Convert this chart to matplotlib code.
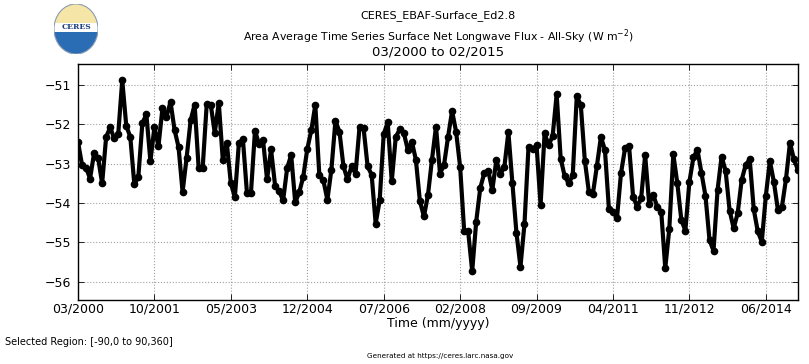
import numpy as np
import matplotlib
matplotlib.use("Agg")
import matplotlib.pyplot as plt
from matplotlib.patches import Ellipse, Rectangle, Wedge

title_main = "CERES_EBAF-Surface_Ed2.8"
title_sub = "Area Average Time Series Surface Net Longwave Flux - All-Sky (W m$^{-2}$)"
title_range = "03/2000 to 02/2015"
xlabel = "Time (mm/yyyy)"
region_text = "Selected Region: [-90,0 to 90,360]"
generated_text = "Generated at https://ceres.larc.nasa.gov"

tick_labels = ["03/2000", "10/2001", "05/2003", "12/2004", "07/2006",
               "02/2008", "09/2009", "04/2011", "11/2012", "06/2014"]
tick_months = [0, 19, 38, 57, 76, 95, 114, 133, 152, 171]
y_ticks = [-56, -55, -54, -53, -52, -51]

flux = [
    -52.45, -53.03, -53.10, -53.38, -52.73, -52.85, -53.50, -52.32, -52.08, -52.36,
    -52.25, -50.88, -52.04, -52.32, -53.52, -53.34, -51.97, -51.75, -52.94, -52.07,
    -52.56, -51.59, -51.81, -51.43, -52.14, -52.58, -53.72, -52.85, -51.90, -51.50,
    -53.12, -53.10, -51.49, -51.50, -52.22, -51.45, -52.91, -52.48, -53.50, -53.85,
    -52.47, -52.38, -53.74, -53.74, -52.16, -52.50, -52.40, -53.40, -52.64, -53.56,
    -53.70, -53.93, -53.11, -52.78, -53.98, -53.73, -53.33, -52.63, -52.15, -51.51,
    -53.30, -53.42, -53.92, -53.15, -51.91, -52.19, -53.07, -53.40, -53.07, -53.25,
    -52.06, -52.10, -53.07, -53.28, -54.52, -53.93, -52.25, -51.95, -53.45, -52.32,
    -52.13, -52.22, -52.65, -52.44, -52.90, -53.95, -54.34, -53.80, -52.90, -52.06,
    -53.25, -53.03, -52.32, -51.66, -52.19, -53.08, -54.70, -54.72, -55.73, -54.47,
    -53.62, -53.24, -53.18, -53.67, -52.91, -53.26, -53.08, -52.20, -53.50, -54.75,
    -55.62, -54.53, -52.57, -52.64, -52.53, -54.05, -52.23, -52.53, -52.30, -51.24,
    -52.87, -53.32, -53.50, -53.29, -51.29, -51.51, -52.92, -53.71, -53.77, -53.06,
    -52.32, -52.65, -54.16, -54.22, -54.38, -53.24, -52.61, -52.55, -53.84, -54.09,
    -53.88, -52.78, -54.02, -53.79, -54.09, -54.22, -55.65, -54.66, -52.76, -53.50,
    -54.43, -54.70, -53.46, -52.84, -52.65, -53.23, -53.82, -54.94, -55.21, -53.67,
    -52.82, -53.18, -54.19, -54.64, -54.26, -53.41, -53.03, -52.89, -54.16, -54.72,
    -54.98, -53.82, -52.93, -53.46, -54.17, -54.10, -53.40, -52.47, -52.89, -53.16,
]

months = np.arange(len(flux))

fig = plt.figure(figsize=(8.09, 3.64), dpi=100)
ax = fig.add_axes([78 / 809, 1 - 300 / 364, 720 / 809, 236 / 364])
ax.plot(months, flux, color="black", linewidth=3, marker="o", markersize=4.5)
ax.set_xlim(0, len(flux) - 1)
ax.set_ylim(-56.46, -50.47)
ax.set_xticks(tick_months)
ax.set_xticklabels(tick_labels, fontsize=9)
ax.set_yticks(y_ticks)
ax.set_yticklabels([f"\u2212{abs(v)}" for v in y_ticks], fontsize=9)
ax.tick_params(direction="in", top=True, right=True, length=4, width=0.6)
ax.tick_params(axis="x", pad=2)
ax.tick_params(axis="y", pad=5)
ax.grid(True, color="#a0a0a0", linestyle=":", linewidth=0.8)
for s in ax.spines.values():
    s.set_linewidth(1.0)
ax.set_xlabel(xlabel, fontsize=9, labelpad=1)

cx = 438 / 809
fig.text(cx, 1 - 16 / 364, title_main, ha="center", va="center", fontsize=8)
fig.text(cx, 1 - 37 / 364, title_sub, ha="center", va="center", fontsize=7.8)
fig.text(cx, 1 - 52 / 364, title_range, ha="center", va="center", fontsize=9.5)
fig.text(5 / 809, 1 - 342 / 364, region_text, ha="left", va="center", fontsize=7)
fig.text(440 / 809, 1 - 356 / 364, generated_text, ha="center", va="center", fontsize=5.2)

# logo
lax = fig.add_axes([54 / 809, 1 - 54 / 364, 44 / 809, 50 / 364])
lax.set_xlim(-1, 1)
lax.set_ylim(-1, 1)
lax.axis("off")
lax.add_patch(Wedge((0, 0), 1, 0, 180, facecolor="#f5e6a8", edgecolor="none"))
lax.add_patch(Wedge((0, 0), 1, 180, 360, facecolor="#2a6db5", edgecolor="none"))
lax.add_patch(Rectangle((-1, -0.1), 2, 0.35, facecolor="white", edgecolor="none"))
lax.add_patch(Ellipse((0, 0), 2, 2, facecolor="none", edgecolor="#8a9bb0", linewidth=0.8))
lax.text(0, 0.07, "CERES", ha="center", va="center", fontsize=5.5, color="#1a3d7a",
         family="DejaVu Serif", weight="bold")

fig.savefig("out.png", dpi=100)
